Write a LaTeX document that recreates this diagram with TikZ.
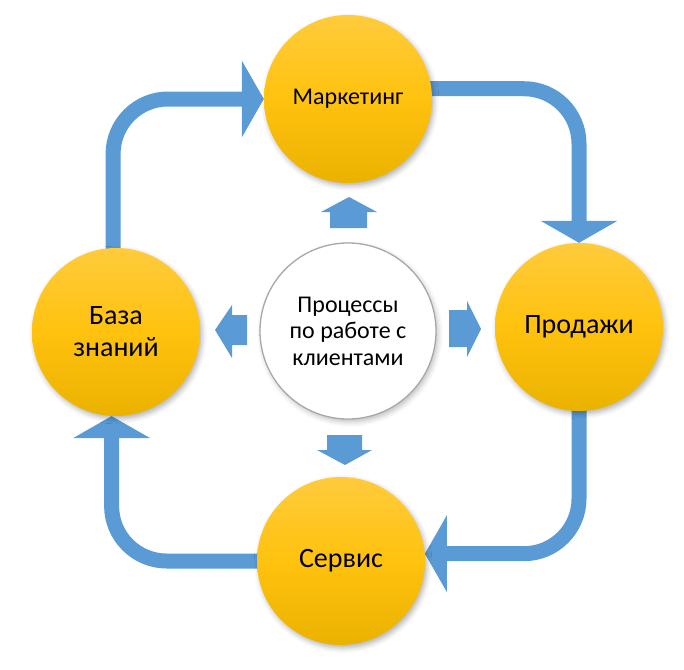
\documentclass[tikz,border=0pt]{standalone}
\usepackage{fontspec}
\setmainfont{Carlito}
\usetikzlibrary{arrows.meta,shadows.blur,backgrounds,calc}
\definecolor{arrowblue}{HTML}{5B9BD5}
\definecolor{arrowdark}{HTML}{4A8ACB}
\definecolor{goldlight}{HTML}{FFCB3C}
\definecolor{goldmid}{HTML}{FFC20E}
\definecolor{golddark}{HTML}{EAB200}
\definecolor{rimgray}{HTML}{A8A8A8}
\begin{document}
\begin{tikzpicture}[x=1pt,y=-1pt,
  gold/.style={circle, minimum size=168pt, inner sep=0pt,
    top color=goldlight, bottom color=golddark, middle color=goldmid,
    blur shadow={shadow xshift=2pt, shadow yshift=-3pt, shadow opacity=30, shadow blur radius=5pt},
    align=center, font=\fontsize{28}{32}\selectfont},
  hub/.style={circle, minimum size=176pt, inner sep=0pt, fill=white, draw=rimgray, line width=1.3pt,
    blur shadow={shadow xshift=2pt, shadow yshift=-3pt, shadow opacity=25, shadow blur radius=5pt},
    align=center, font=\fontsize{24}{26.5}\selectfont},
  bigarrow/.style={draw=arrowblue, line width=15pt, rounded corners=55pt,
    -{Triangle[width=76pt, length=22pt]}},
  smallarrow/.style={fill=arrowblue, draw=none}
]
\useasboundingbox (0,0) rectangle (684,669);

% nodes
\node[gold, font=\fontsize{24}{28}\selectfont] (mkt) at (348,99) {Маркетинг};
\node[gold] (sale) at (579,327) {Продажи};
\node[gold] (serv) at (341,561) {Сервис};
\node[gold] (base) at (116,332) {База\\знаний};
\node[hub] (hub) at (348,331) {Процессы\\по работе с\\клиентами};

% big cycle arrows
\begin{scope}[on background layer]
  \draw[bigarrow] ([yshift=-6pt]base.92) |- (mkt.west);
  \draw[bigarrow] ([xshift=-6pt]mkt.7) -| (sale.north);
  \draw[bigarrow] ([yshift=6pt]sale.south) |- (serv.5);
  \draw[bigarrow] ([xshift=6pt]serv.west) -| (base.-93);
\end{scope}

% small arrows from the hub
\fill[smallarrow] (330,228) -- (330,212) -- (321,212) -- (349,197) -- (377,212) -- (367,212) -- (367,228) -- cycle;
\fill[smallarrow] (449,310) -- (467,310) -- (467,301) -- (481,329) -- (467,357) -- (467,347) -- (449,347) -- cycle;
\fill[smallarrow] (327,435) -- (362,435) -- (362,450) -- (372,450) -- (345,465) -- (317,450) -- (327,450) -- cycle;
\fill[smallarrow] (247,315) -- (232,315) -- (232,305) -- (215,330) -- (232,358) -- (232,345) -- (247,345) -- cycle;
\end{tikzpicture}
\end{document}
